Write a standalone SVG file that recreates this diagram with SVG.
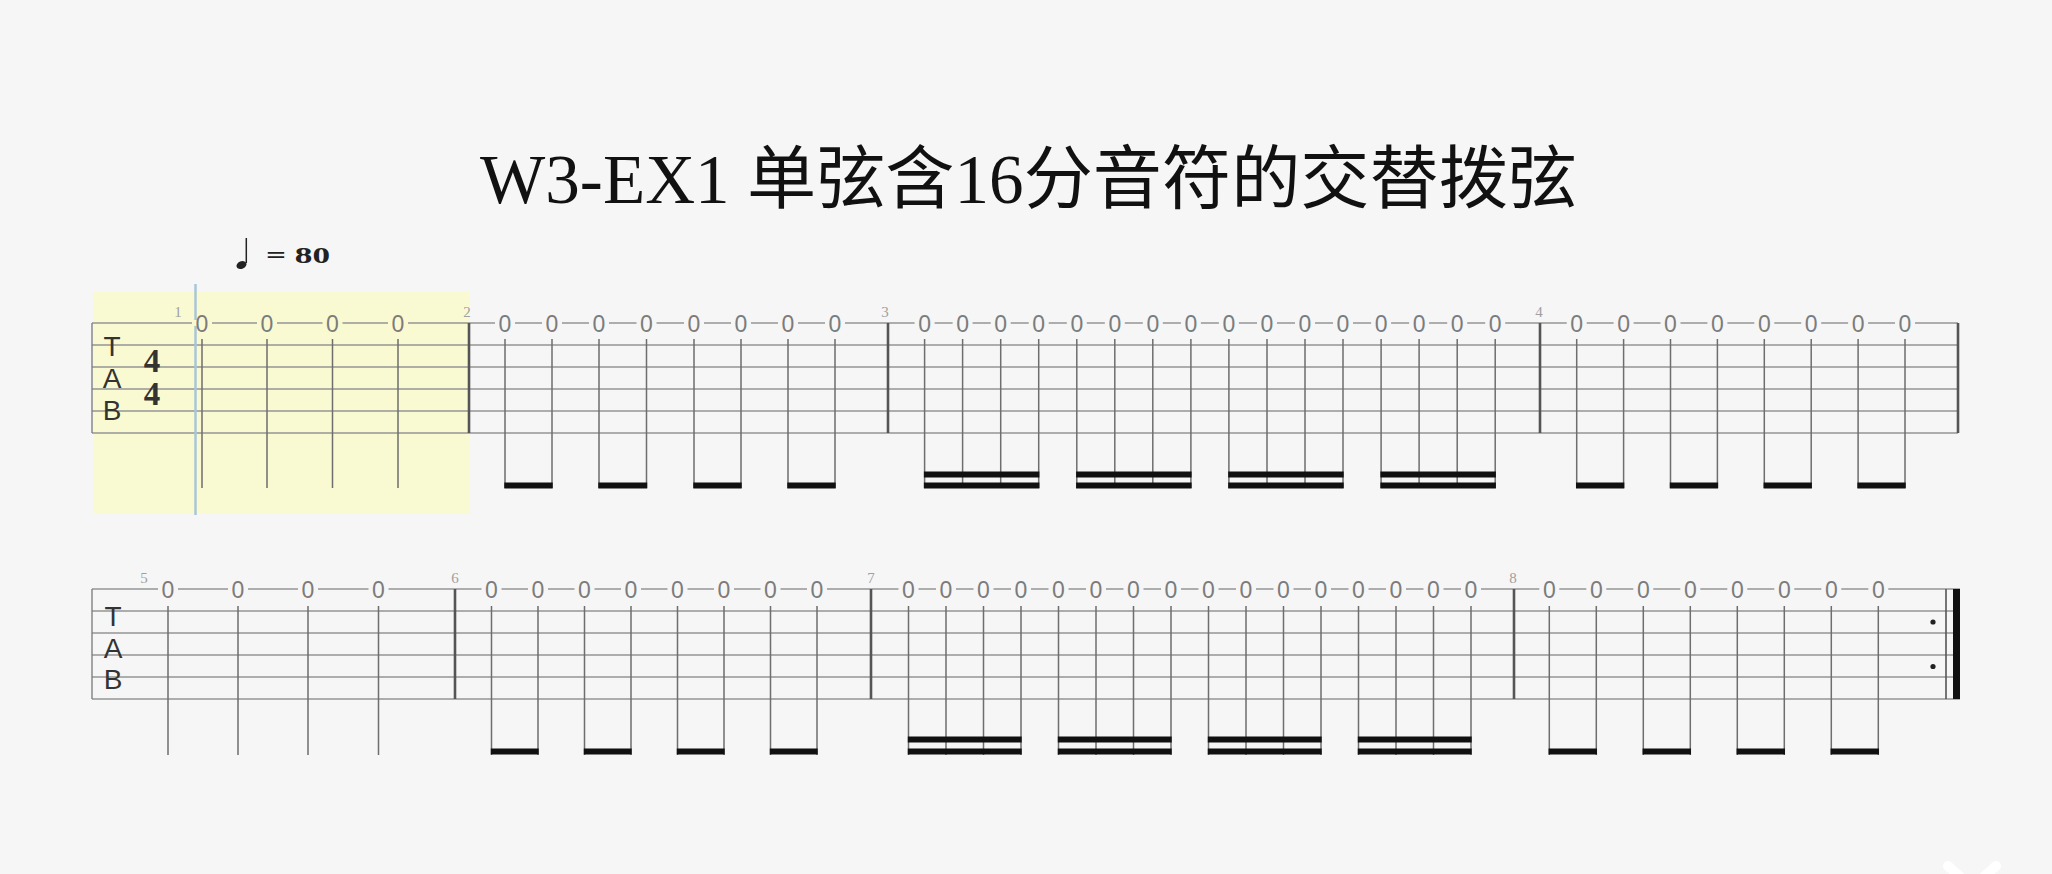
<svg xmlns="http://www.w3.org/2000/svg" xmlns:xlink="http://www.w3.org/1999/xlink" width="2052" height="874" viewBox="0 0 2052 874">
<style>
.staff{stroke:#959595;stroke-width:1.3;fill:none}
.bar{stroke:#555;stroke-width:2.6}
.edge{stroke:#777;stroke-width:1.3}
.stem{stroke:#6e6e6e;stroke-width:1.5;fill:none}
.beam{fill:#111}
.fret{font-family:"Liberation Sans",Arial,sans-serif;font-size:23px;fill:#7c7c7c;text-anchor:middle}
.num{font-family:"Liberation Serif","Times New Roman",serif;font-size:15px;fill:#a0a0a0;text-anchor:middle}
.tab{font-family:"Liberation Sans",Arial,sans-serif;font-size:28px;fill:#333;text-anchor:middle}
.ts{font-family:"Liberation Serif","Times New Roman",serif;font-size:33px;font-weight:bold;fill:#333;text-anchor:middle}
.title{font-family:"Liberation Serif","Noto Sans CJK SC",serif;font-size:69px;fill:#111}
.tempo{font-family:"Liberation Serif","Times New Roman",serif;font-size:23px;font-weight:bold;fill:#222}
</style>
<defs>
<rect id="gp" x="-10" y="-3" width="20" height="6" fill="#f6f6f6"/>
<rect id="gpy" x="-10" y="-3" width="20" height="6" fill="#fafad2"/>
</defs>
<rect x="0" y="0" width="2052" height="874" fill="#f6f6f6"/>
<g id="title"><text class="title" x="480" y="203" textLength="1097" lengthAdjust="spacingAndGlyphs">W3-EX1 单弦含16分音符的交替拨弦</text></g>
<g id="tempo">
<ellipse cx="241.5" cy="265" rx="5.2" ry="3.8" transform="rotate(-22 241.5 265)" fill="#222"/>
<line x1="246.3" y1="263" x2="246.3" y2="238" stroke="#222" stroke-width="1.5"/>
<text class="tempo" x="266" y="263" textLength="64" lengthAdjust="spacingAndGlyphs">= 80</text>
</g>
<g id="highlight">
<rect x="93" y="292" width="377" height="221" fill="#fafad2"/>
</g>
<g id="row1">
<path class="staff" d="M92 323H1958M92 345H1958M92 367H1958M92 389H1958M92 411H1958M92 433H1958"/>
<line class="edge" x1="92" y1="323" x2="92" y2="433"/>
<line class="bar" x1="469" y1="323" x2="469" y2="433"/>
<line class="bar" x1="888" y1="323" x2="888" y2="433"/>
<line class="bar" x1="1540" y1="323" x2="1540" y2="433"/>
<line class="bar" x1="1958" y1="323" x2="1958" y2="433"/>
<text class="tab" x="112" y="356">T</text>
<text class="tab" x="112" y="388">A</text>
<text class="tab" x="112" y="420">B</text>
<text class="ts" x="152" y="372">4</text>
<text class="ts" x="152" y="405">4</text>
<line x1="195.5" y1="284" x2="195.5" y2="515" stroke="#a9c6d6" stroke-width="2.5"/>
<text class="num" x="178" y="317">1</text>
<text class="num" x="467" y="317">2</text>
<text class="num" x="885" y="317">3</text>
<text class="num" x="1539" y="317">4</text>
</g>
<g id="m1">
<use href="#gpy" x="202" y="323"/><use href="#gpy" x="267" y="323"/><use href="#gpy" x="332.5" y="323"/><use href="#gpy" x="398" y="323"/>
<text class="fret" x="202" y="331.5">0</text><text class="fret" x="267" y="331.5">0</text><text class="fret" x="332.5" y="331.5">0</text><text class="fret" x="398" y="331.5">0</text>
<path class="stem" d="M202 339V488M267 339V488M332.5 339V488M398 339V488"/>
</g>
<g id="m2">
<use href="#gp" x="505" y="323"/><use href="#gp" x="552" y="323"/><use href="#gp" x="599" y="323"/><use href="#gp" x="646.5" y="323"/><use href="#gp" x="694" y="323"/><use href="#gp" x="741" y="323"/><use href="#gp" x="788" y="323"/><use href="#gp" x="835" y="323"/>
<text class="fret" x="505" y="331.5">0</text><text class="fret" x="552" y="331.5">0</text><text class="fret" x="599" y="331.5">0</text><text class="fret" x="646.5" y="331.5">0</text><text class="fret" x="694" y="331.5">0</text><text class="fret" x="741" y="331.5">0</text><text class="fret" x="788" y="331.5">0</text><text class="fret" x="835" y="331.5">0</text>
<path class="stem" d="M505 339V488M552 339V488M599 339V488M646.5 339V488M694 339V488M741 339V488M788 339V488M835 339V488"/>
<rect class="beam" x="504.3" y="482.5" width="48.4" height="6"/><rect class="beam" x="598.3" y="482.5" width="48.9" height="6"/><rect class="beam" x="693.3" y="482.5" width="48.4" height="6"/><rect class="beam" x="787.3" y="482.5" width="48.4" height="6"/>
</g>
<g id="m3">
<use href="#gp" x="924.6" y="323"/><use href="#gp" x="962.6" y="323"/><use href="#gp" x="1000.7" y="323"/><use href="#gp" x="1038.7" y="323"/><use href="#gp" x="1076.8" y="323"/><use href="#gp" x="1114.8" y="323"/><use href="#gp" x="1152.8" y="323"/><use href="#gp" x="1190.9" y="323"/><use href="#gp" x="1228.9" y="323"/><use href="#gp" x="1267" y="323"/><use href="#gp" x="1305" y="323"/><use href="#gp" x="1343" y="323"/><use href="#gp" x="1381.1" y="323"/><use href="#gp" x="1419.1" y="323"/><use href="#gp" x="1457.2" y="323"/><use href="#gp" x="1495.2" y="323"/>
<text class="fret" x="924.6" y="331.5">0</text><text class="fret" x="962.6" y="331.5">0</text><text class="fret" x="1000.7" y="331.5">0</text><text class="fret" x="1038.7" y="331.5">0</text><text class="fret" x="1076.8" y="331.5">0</text><text class="fret" x="1114.8" y="331.5">0</text><text class="fret" x="1152.8" y="331.5">0</text><text class="fret" x="1190.9" y="331.5">0</text><text class="fret" x="1228.9" y="331.5">0</text><text class="fret" x="1267" y="331.5">0</text><text class="fret" x="1305" y="331.5">0</text><text class="fret" x="1343" y="331.5">0</text><text class="fret" x="1381.1" y="331.5">0</text><text class="fret" x="1419.1" y="331.5">0</text><text class="fret" x="1457.2" y="331.5">0</text><text class="fret" x="1495.2" y="331.5">0</text>
<path class="stem" d="M924.6 339V488M962.6 339V488M1000.7 339V488M1038.7 339V488M1076.8 339V488M1114.8 339V488M1152.8 339V488M1190.9 339V488M1228.9 339V488M1267 339V488M1305 339V488M1343 339V488M1381.1 339V488M1419.1 339V488M1457.2 339V488M1495.2 339V488"/>
<rect class="beam" x="923.9" y="471.5" width="115.5" height="6"/><rect class="beam" x="923.9" y="482.5" width="115.5" height="6"/>
<rect class="beam" x="1076.1" y="471.5" width="115.5" height="6"/><rect class="beam" x="1076.1" y="482.5" width="115.5" height="6"/>
<rect class="beam" x="1228.2" y="471.5" width="115.5" height="6"/><rect class="beam" x="1228.2" y="482.5" width="115.5" height="6"/>
<rect class="beam" x="1380.4" y="471.5" width="115.5" height="6"/><rect class="beam" x="1380.4" y="482.5" width="115.5" height="6"/>
</g>
<g id="m4">
<use href="#gp" x="1576.7" y="323"/><use href="#gp" x="1623.6" y="323"/><use href="#gp" x="1670.5" y="323"/><use href="#gp" x="1717.4" y="323"/><use href="#gp" x="1764.3" y="323"/><use href="#gp" x="1811.2" y="323"/><use href="#gp" x="1858.1" y="323"/><use href="#gp" x="1905" y="323"/>
<text class="fret" x="1576.7" y="331.5">0</text><text class="fret" x="1623.6" y="331.5">0</text><text class="fret" x="1670.5" y="331.5">0</text><text class="fret" x="1717.4" y="331.5">0</text><text class="fret" x="1764.3" y="331.5">0</text><text class="fret" x="1811.2" y="331.5">0</text><text class="fret" x="1858.1" y="331.5">0</text><text class="fret" x="1905" y="331.5">0</text>
<path class="stem" d="M1576.7 339V488M1623.6 339V488M1670.5 339V488M1717.4 339V488M1764.3 339V488M1811.2 339V488M1858.1 339V488M1905 339V488"/>
<rect class="beam" x="1576" y="482.5" width="48.3" height="6"/><rect class="beam" x="1669.8" y="482.5" width="48.3" height="6"/><rect class="beam" x="1763.6" y="482.5" width="48.3" height="6"/><rect class="beam" x="1857.4" y="482.5" width="48.3" height="6"/>
</g>
<g id="row2">
<path class="staff" d="M92 589H1960M92 611H1960M92 633H1960M92 655H1960M92 677H1960M92 699H1960"/>
<line class="edge" x1="92" y1="589" x2="92" y2="699"/>
<line class="bar" x1="455" y1="589" x2="455" y2="699"/>
<line class="bar" x1="871" y1="589" x2="871" y2="699"/>
<line class="bar" x1="1514" y1="589" x2="1514" y2="699"/>
<line x1="1946" y1="589" x2="1946" y2="699" stroke="#555" stroke-width="1.6"/>
<rect x="1953" y="589" width="7" height="110" fill="#111"/>
<circle cx="1933" cy="622" r="2.6" fill="#222"/>
<circle cx="1933" cy="666.5" r="2.6" fill="#222"/>
<text class="tab" x="113" y="626">T</text>
<text class="tab" x="113" y="658">A</text>
<text class="tab" x="113" y="689">B</text>
<text class="num" x="144" y="583">5</text>
<text class="num" x="455" y="583">6</text>
<text class="num" x="871" y="583">7</text>
<text class="num" x="1513" y="583">8</text>
</g>
<g id="m5">
<use href="#gp" x="168" y="589"/><use href="#gp" x="238" y="589"/><use href="#gp" x="308" y="589"/><use href="#gp" x="378.5" y="589"/>
<text class="fret" x="168" y="597.5">0</text><text class="fret" x="238" y="597.5">0</text><text class="fret" x="308" y="597.5">0</text><text class="fret" x="378.5" y="597.5">0</text>
<path class="stem" d="M168 606V755M238 606V755M308 606V755M378.5 606V755"/>
</g>
<g id="m6">
<use href="#gp" x="491.5" y="589"/><use href="#gp" x="538" y="589"/><use href="#gp" x="584.5" y="589"/><use href="#gp" x="631" y="589"/><use href="#gp" x="677.5" y="589"/><use href="#gp" x="724" y="589"/><use href="#gp" x="770.5" y="589"/><use href="#gp" x="817" y="589"/>
<text class="fret" x="491.5" y="597.5">0</text><text class="fret" x="538" y="597.5">0</text><text class="fret" x="584.5" y="597.5">0</text><text class="fret" x="631" y="597.5">0</text><text class="fret" x="677.5" y="597.5">0</text><text class="fret" x="724" y="597.5">0</text><text class="fret" x="770.5" y="597.5">0</text><text class="fret" x="817" y="597.5">0</text>
<path class="stem" d="M491.5 606V755M538 606V755M584.5 606V755M631 606V755M677.5 606V755M724 606V755M770.5 606V755M817 606V755"/>
<rect class="beam" x="490.8" y="748.5" width="47.9" height="6"/><rect class="beam" x="583.8" y="748.5" width="47.9" height="6"/><rect class="beam" x="676.8" y="748.5" width="47.9" height="6"/><rect class="beam" x="769.8" y="748.5" width="47.9" height="6"/>
</g>
<g id="m7">
<use href="#gp" x="908.5" y="589"/><use href="#gp" x="946" y="589"/><use href="#gp" x="983.5" y="589"/><use href="#gp" x="1021" y="589"/><use href="#gp" x="1058.5" y="589"/><use href="#gp" x="1096" y="589"/><use href="#gp" x="1133.5" y="589"/><use href="#gp" x="1171" y="589"/><use href="#gp" x="1208.5" y="589"/><use href="#gp" x="1246" y="589"/><use href="#gp" x="1283.5" y="589"/><use href="#gp" x="1321" y="589"/><use href="#gp" x="1358.5" y="589"/><use href="#gp" x="1396" y="589"/><use href="#gp" x="1433.5" y="589"/><use href="#gp" x="1471" y="589"/>
<text class="fret" x="908.5" y="597.5">0</text><text class="fret" x="946" y="597.5">0</text><text class="fret" x="983.5" y="597.5">0</text><text class="fret" x="1021" y="597.5">0</text><text class="fret" x="1058.5" y="597.5">0</text><text class="fret" x="1096" y="597.5">0</text><text class="fret" x="1133.5" y="597.5">0</text><text class="fret" x="1171" y="597.5">0</text><text class="fret" x="1208.5" y="597.5">0</text><text class="fret" x="1246" y="597.5">0</text><text class="fret" x="1283.5" y="597.5">0</text><text class="fret" x="1321" y="597.5">0</text><text class="fret" x="1358.5" y="597.5">0</text><text class="fret" x="1396" y="597.5">0</text><text class="fret" x="1433.5" y="597.5">0</text><text class="fret" x="1471" y="597.5">0</text>
<path class="stem" d="M908.5 606V755M946 606V755M983.5 606V755M1021 606V755M1058.5 606V755M1096 606V755M1133.5 606V755M1171 606V755M1208.5 606V755M1246 606V755M1283.5 606V755M1321 606V755M1358.5 606V755M1396 606V755M1433.5 606V755M1471 606V755"/>
<rect class="beam" x="907.8" y="736.5" width="113.9" height="6"/><rect class="beam" x="907.8" y="748.5" width="113.9" height="6"/>
<rect class="beam" x="1057.8" y="736.5" width="113.9" height="6"/><rect class="beam" x="1057.8" y="748.5" width="113.9" height="6"/>
<rect class="beam" x="1207.8" y="736.5" width="113.9" height="6"/><rect class="beam" x="1207.8" y="748.5" width="113.9" height="6"/>
<rect class="beam" x="1357.8" y="736.5" width="113.9" height="6"/><rect class="beam" x="1357.8" y="748.5" width="113.9" height="6"/>
</g>
<g id="m8">
<use href="#gp" x="1549.3" y="589"/><use href="#gp" x="1596.3" y="589"/><use href="#gp" x="1643.3" y="589"/><use href="#gp" x="1690.3" y="589"/><use href="#gp" x="1737.3" y="589"/><use href="#gp" x="1784.3" y="589"/><use href="#gp" x="1831.3" y="589"/><use href="#gp" x="1878.3" y="589"/>
<text class="fret" x="1549.3" y="597.5">0</text><text class="fret" x="1596.3" y="597.5">0</text><text class="fret" x="1643.3" y="597.5">0</text><text class="fret" x="1690.3" y="597.5">0</text><text class="fret" x="1737.3" y="597.5">0</text><text class="fret" x="1784.3" y="597.5">0</text><text class="fret" x="1831.3" y="597.5">0</text><text class="fret" x="1878.3" y="597.5">0</text>
<path class="stem" d="M1549.3 606V755M1596.3 606V755M1643.3 606V755M1690.3 606V755M1737.3 606V755M1784.3 606V755M1831.3 606V755M1878.3 606V755"/>
<rect class="beam" x="1548.6" y="748.5" width="48.4" height="6"/><rect class="beam" x="1642.6" y="748.5" width="48.4" height="6"/><rect class="beam" x="1736.6" y="748.5" width="48.4" height="6"/><rect class="beam" x="1830.6" y="748.5" width="48.4" height="6"/>
</g>
<g id="corner-mark">
<path d="M1948 866L1966 882M1996 866L1978 882" stroke="#ffffff" stroke-width="10" stroke-linecap="round" fill="none"/>
</g>
</svg>
